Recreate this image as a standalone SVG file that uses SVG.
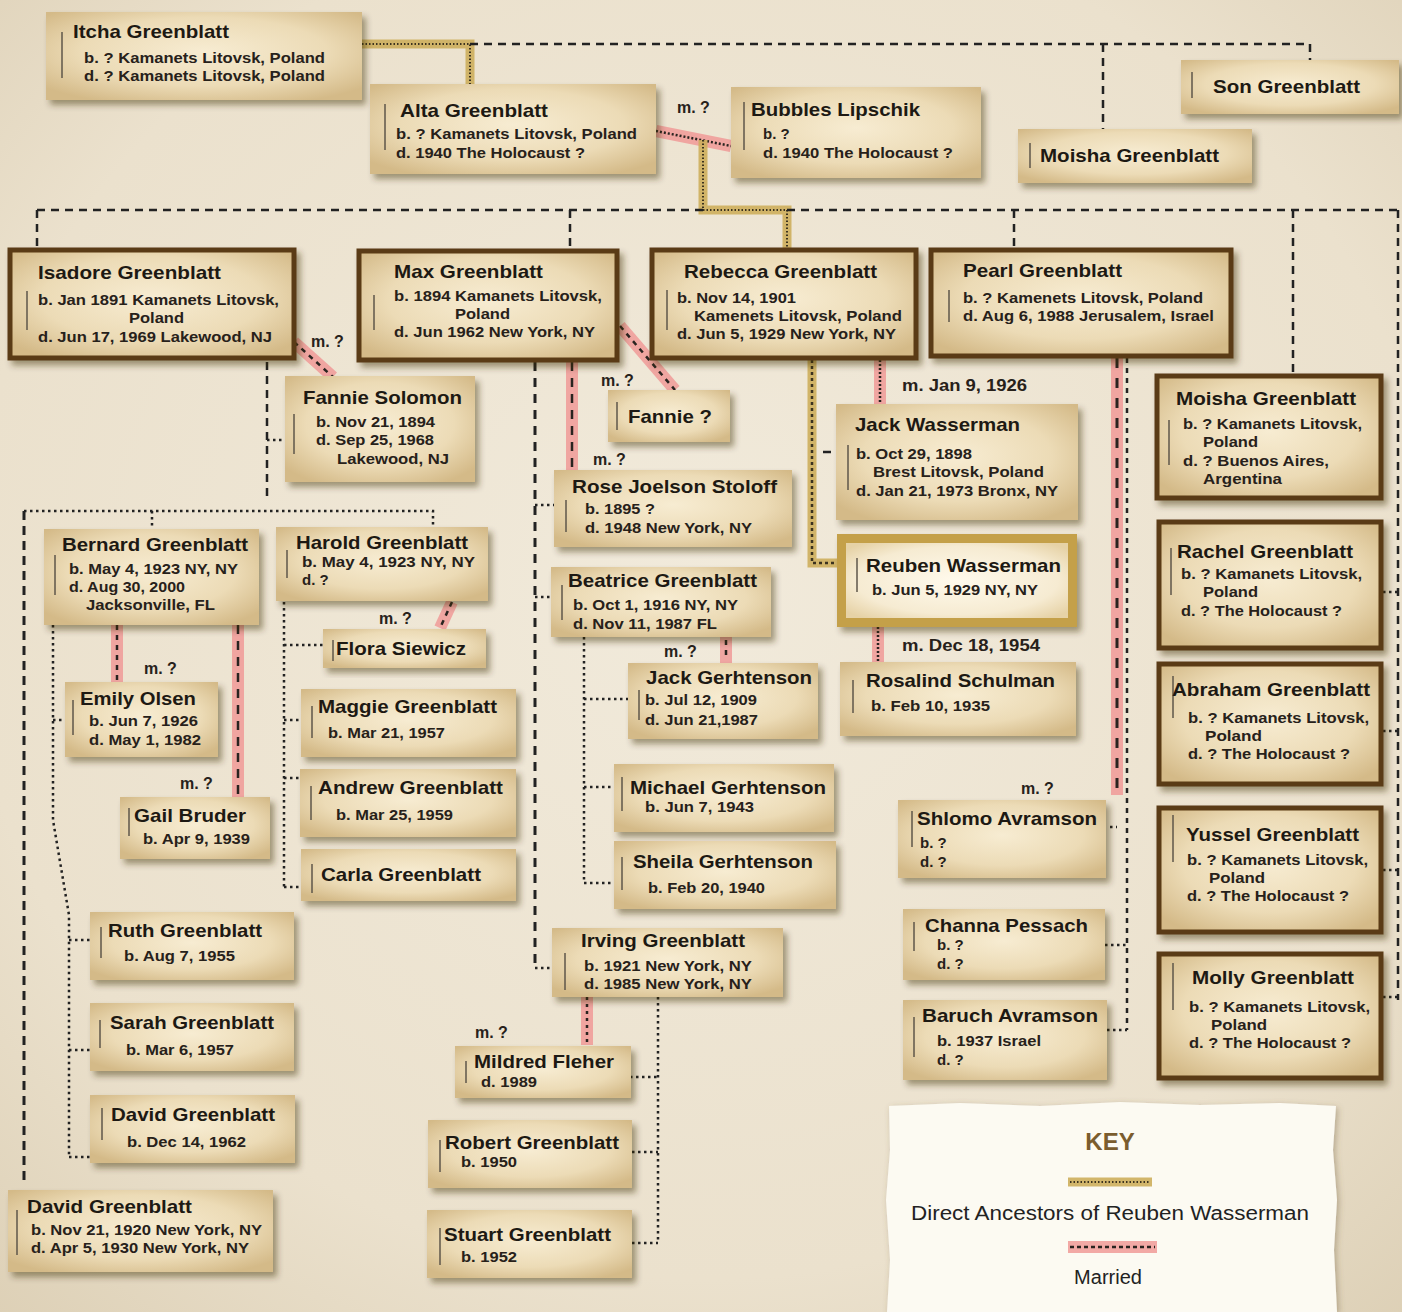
<svg xmlns="http://www.w3.org/2000/svg" width="1402" height="1312" viewBox="0 0 1402 1312">
<defs>
<radialGradient id="bg" cx="50%" cy="45%" r="75%">
<stop offset="0" stop-color="#f1eadb"/><stop offset="0.7" stop-color="#ebe1cd"/><stop offset="1" stop-color="#ddd0b6"/>
</radialGradient>
<radialGradient id="paper" cx="50%" cy="45%" r="65%">
<stop offset="0" stop-color="#f7ecd2"/><stop offset="0.6" stop-color="#ecdbb6"/><stop offset="1" stop-color="#d4ba88"/>
</radialGradient>
<radialGradient id="paperR" cx="50%" cy="50%" r="65%">
<stop offset="0" stop-color="#fffaec"/><stop offset="0.7" stop-color="#f6ebd2"/><stop offset="1" stop-color="#e6d2a6"/>
</radialGradient>
<filter id="sh" x="-10%" y="-15%" width="125%" height="140%">
<feDropShadow dx="4" dy="5" stdDeviation="3" flood-color="#3a2a10" flood-opacity="0.45"/>
</filter>
<filter id="ksh" x="-5%" y="-5%" width="110%" height="110%">
<feDropShadow dx="2" dy="2" stdDeviation="3" flood-color="#6a5a3a" flood-opacity="0.4"/>
</filter>
</defs>
<style>
.t{font-family:"Liberation Sans",Arial,sans-serif;font-weight:bold;font-size:19px;fill:#1d1913}
.d{font-family:"Liberation Sans",Arial,sans-serif;font-weight:bold;font-size:15px;fill:#27211a}
.m{font-family:"Liberation Sans",Arial,sans-serif;font-weight:bold;font-size:16px;fill:#27211a}
.box{fill:url(#paper);filter:url(#sh)}
.bx{stroke:#5a3a12;stroke-width:5}
.bar{stroke:#5e564a;stroke-width:1.5}
.pink{fill:none;stroke:#f09a98;stroke-width:12;stroke-opacity:0.85}
.pd{fill:none;stroke:#2a2420;stroke-width:2.5;stroke-dasharray:5 5}
.gold{fill:none;stroke:#cdae5c;stroke-width:9;stroke-opacity:0.9}
.gd{fill:none;stroke:#3b321f;stroke-width:2;stroke-dasharray:1.5 2}
.dash{fill:none;stroke:#222;stroke-width:2.5;stroke-dasharray:8 6}
.dot{fill:none;stroke:#222;stroke-width:2.5;stroke-dasharray:2.5 3.5}
</style>
<rect x="0" y="0" width="1402" height="1312" fill="url(#bg)"/>

<g id="connectors">
<path class="gold" d="M362,44 H470 V84"/><path class="gd" d="M362,44 H470 V84"/>
<path class="dash" d="M470,44 H1310 V60"/>
<path class="dash" d="M1103,44 V129"/>
<path class="pink" d="M656,131 L731,146"/><path class="pd" d="M656,131 L731,146" style="stroke-dasharray:2 2"/>
<path class="gold" d="M703,140 V210 H787 V248"/><path class="gd" d="M703,140 V210 H787 V248"/>
<path class="dash" d="M37,210 H703 M787,210 H1400"/>
<path class="dash" d="M37,210 V248 M570,210 V249 M1014,210 V248 M1293,210 V374 M1398,210 V1000"/>
<path class="dot" d="M1383,592 H1398 M1383,731 H1398 M1383,870 H1398 M1383,997 H1398"/>
<path class="pink" d="M294,342 L333,377"/><path class="pd" d="M294,342 L333,377"/>
<path class="dash" d="M267,362 V497"/>
<path class="dot" d="M267,440 H285"/>
<path class="dot" d="M24,511 H433 V527 M152,511 V529"/>
<path class="dash" d="M24,511 V1185" style="stroke-width:3;stroke-dasharray:9 6"/>
<path class="pink" d="M117,625 V682"/><path class="pd" d="M117,625 V682"/>
<path class="pink" d="M238,625 V797"/><path class="pd" d="M238,625 V797" style="stroke-dasharray:9 7"/>
<path class="dot" d="M53,625 V820 L69,915 V1157 M53,720 H65 M69,940 H90 M69,1050 H90 M69,1157 H90"/>
<path class="pink" d="M452,602 L440,628"/><path class="pd" d="M452,602 L440,628"/>
<path class="dot" d="M284,602 V887 M284,645 H323 M284,720 H301 M284,778 H300 M284,887 H301"/>
<path class="pink" d="M620,326 L675,390"/><path class="pd" d="M620,326 L675,390"/>
<path class="pink" d="M572,362 V470"/><path class="pd" d="M572,362 V470" style="stroke-dasharray:9 7"/>
<path class="dash" d="M535,362 V968" style="stroke-width:3;stroke-dasharray:9 7"/>
<path class="dot" d="M535,505 H554 M535,597 H551 M535,968 H552"/>
<path class="pink" d="M726,637 V663"/><path class="pd" d="M726,640 V660"/>
<path class="dot" d="M584,637 V883 M584,699 H628 M584,787 H614 M584,883 H614"/>
<path class="pink" d="M880,360 V404"/><path class="pd" d="M880,360 V404" style="stroke-dasharray:2 2"/>
<path class="gold" d="M812,360 V563 H837"/><path class="gd" d="M812,360 V563 H837" style="stroke-width:2.5;stroke-dasharray:3 3"/>
<path class="dash" d="M823,452 H831"/>
<path class="pink" d="M878,627 V662"/><path class="pd" d="M878,627 V662" style="stroke-dasharray:2 2"/>
<path class="pink" d="M1117,358 V795"/><path class="pd" d="M1117,358 V795" style="stroke-dasharray:10 10;stroke-width:3"/>
<path class="dash" d="M1127,358 V1030" style="stroke-dasharray:5 5"/>
<path class="dot" d="M1110,827 H1117 M1105,945 H1127 M1107,1030 H1127"/>
<path class="pink" d="M587,997 V1045"/><path class="pd" d="M587,997 V1045" style="stroke-dasharray:3 4"/>
<path class="dot" d="M658,997 V1243 M630,1077 H658 M632,1152 H658 M632,1243 H658"/>
</g>

<g id="labels">
<text class="m" x="677" y="113">m. ?</text>
<text class="m" x="311" y="347">m. ?</text>
<text class="m" x="144" y="674">m. ?</text>
<text class="m" x="180" y="789">m. ?</text>
<text class="m" x="379" y="624">m. ?</text>
<text class="m" x="601" y="386">m. ?</text>
<text class="m" x="593" y="465">m. ?</text>
<text class="m" x="664" y="657">m. ?</text>
<text class="m" x="902" y="391" textLength="125" lengthAdjust="spacingAndGlyphs">m. Jan 9, 1926</text>
<text class="m" x="902" y="651" textLength="138" lengthAdjust="spacingAndGlyphs">m. Dec 18, 1954</text>
<text class="m" x="1021" y="794">m. ?</text>
<text class="m" x="475" y="1038">m. ?</text>
</g>

<g id="itcha"><rect class="box" x="46" y="12" width="316" height="88"/><line class="bar" x1="62" y1="32" x2="62" y2="78"/>
<text class="t" x="73" y="38" textLength="156" lengthAdjust="spacingAndGlyphs">Itcha Greenblatt</text>
<text class="d" x="84" y="63" textLength="241" lengthAdjust="spacingAndGlyphs">b. ? Kamanets Litovsk, Poland</text>
<text class="d" x="84" y="81" textLength="241" lengthAdjust="spacingAndGlyphs">d. ? Kamanets Litovsk, Poland</text></g>

<g id="alta"><rect class="box" x="370" y="84" width="286" height="90"/><line class="bar" x1="385" y1="104" x2="385" y2="150"/>
<text class="t" x="400" y="117" textLength="148" lengthAdjust="spacingAndGlyphs">Alta Greenblatt</text>
<text class="d" x="396" y="139" textLength="241" lengthAdjust="spacingAndGlyphs">b. ? Kamanets Litovsk, Poland</text>
<text class="d" x="396" y="158" textLength="189" lengthAdjust="spacingAndGlyphs">d. 1940 The Holocaust ?</text></g>

<g id="bubbles"><rect class="box" x="731" y="87" width="250" height="91"/><line class="bar" x1="744" y1="102" x2="744" y2="150"/>
<text class="t" x="751" y="116" textLength="169" lengthAdjust="spacingAndGlyphs">Bubbles Lipschik</text>
<text class="d" x="763" y="139">b. ?</text>
<text class="d" x="763" y="158" textLength="190" lengthAdjust="spacingAndGlyphs">d. 1940 The Holocaust ?</text></g>

<g id="son"><rect class="box" x="1181" y="60" width="218" height="54"/><line class="bar" x1="1192" y1="72" x2="1192" y2="98"/>
<text class="t" x="1213" y="93" textLength="147" lengthAdjust="spacingAndGlyphs">Son Greenblatt</text></g>

<g id="moisha1"><rect class="box" x="1018" y="129" width="234" height="54"/><line class="bar" x1="1030" y1="143" x2="1030" y2="168"/>
<text class="t" x="1040" y="162" textLength="179" lengthAdjust="spacingAndGlyphs">Moisha Greenblatt</text></g>

<g id="isadore"><rect class="box bx" x="10" y="250" width="284" height="108"/><line class="bar" x1="27" y1="291" x2="27" y2="330"/>
<text class="t" x="38" y="279" textLength="183" lengthAdjust="spacingAndGlyphs">Isadore Greenblatt</text>
<text class="d" x="38" y="305" textLength="241" lengthAdjust="spacingAndGlyphs">b. Jan 1891 Kamanets Litovsk,</text>
<text class="d" x="129" y="323" textLength="55" lengthAdjust="spacingAndGlyphs">Poland</text>
<text class="d" x="38" y="342" textLength="234" lengthAdjust="spacingAndGlyphs">d. Jun 17, 1969 Lakewood, NJ</text></g>

<g id="max"><rect class="box bx" x="359" y="251" width="258" height="109"/><line class="bar" x1="374" y1="295" x2="374" y2="330"/>
<text class="t" x="394" y="278" textLength="149" lengthAdjust="spacingAndGlyphs">Max Greenblatt</text>
<text class="d" x="394" y="301" textLength="208" lengthAdjust="spacingAndGlyphs">b. 1894 Kamanets Litovsk,</text>
<text class="d" x="455" y="319" textLength="55" lengthAdjust="spacingAndGlyphs">Poland</text>
<text class="d" x="394" y="337" textLength="201" lengthAdjust="spacingAndGlyphs">d. Jun 1962 New York, NY</text></g>

<g id="rebecca"><rect class="box bx" x="652" y="250" width="264" height="108"/><line class="bar" x1="667" y1="290" x2="667" y2="330"/>
<text class="t" x="684" y="278" textLength="193" lengthAdjust="spacingAndGlyphs">Rebecca Greenblatt</text>
<text class="d" x="677" y="303" textLength="119" lengthAdjust="spacingAndGlyphs">b. Nov 14, 1901</text>
<text class="d" x="694" y="321" textLength="208" lengthAdjust="spacingAndGlyphs">Kamenets Litovsk, Poland</text>
<text class="d" x="677" y="339" textLength="219" lengthAdjust="spacingAndGlyphs">d. Jun 5, 1929 New York, NY</text></g>

<g id="pearl"><rect class="box bx" x="931" y="250" width="300" height="106"/><line class="bar" x1="949" y1="290" x2="949" y2="322"/>
<text class="t" x="963" y="277" textLength="159" lengthAdjust="spacingAndGlyphs">Pearl Greenblatt</text>
<text class="d" x="963" y="303" textLength="240" lengthAdjust="spacingAndGlyphs">b. ? Kamenets Litovsk, Poland</text>
<text class="d" x="963" y="321" textLength="251" lengthAdjust="spacingAndGlyphs">d. Aug 6, 1988 Jerusalem, Israel</text></g>

<g id="fannieS"><rect class="box" x="285" y="376" width="190" height="106"/><line class="bar" x1="294" y1="414" x2="294" y2="454"/>
<text class="t" x="303" y="404" textLength="159" lengthAdjust="spacingAndGlyphs">Fannie Solomon</text>
<text class="d" x="316" y="427" textLength="119" lengthAdjust="spacingAndGlyphs">b. Nov 21, 1894</text>
<text class="d" x="316" y="445" textLength="118" lengthAdjust="spacingAndGlyphs">d. Sep 25, 1968</text>
<text class="d" x="337" y="464" textLength="112" lengthAdjust="spacingAndGlyphs">Lakewood, NJ</text></g>

<g id="fannieQ"><rect class="box" x="608" y="390" width="122" height="52"/><line class="bar" x1="617" y1="402" x2="617" y2="430"/>
<text class="t" x="628" y="423" textLength="84" lengthAdjust="spacingAndGlyphs">Fannie ?</text></g>

<g id="rose"><rect class="box" x="554" y="470" width="238" height="77"/><line class="bar" x1="566" y1="500" x2="566" y2="532"/>
<text class="t" x="572" y="493" textLength="205" lengthAdjust="spacingAndGlyphs">Rose Joelson Stoloff</text>
<text class="d" x="585" y="514" textLength="70" lengthAdjust="spacingAndGlyphs">b. 1895 ?</text>
<text class="d" x="585" y="533" textLength="167" lengthAdjust="spacingAndGlyphs">d. 1948 New York, NY</text></g>

<g id="jackW"><rect class="box" x="836" y="404" width="242" height="116"/><line class="bar" x1="848" y1="445" x2="848" y2="490"/>
<text class="t" x="855" y="431" textLength="165" lengthAdjust="spacingAndGlyphs">Jack Wasserman</text>
<text class="d" x="856" y="459" textLength="116" lengthAdjust="spacingAndGlyphs">b. Oct 29, 1898</text>
<text class="d" x="873" y="477" textLength="171" lengthAdjust="spacingAndGlyphs">Brest Litovsk, Poland</text>
<text class="d" x="856" y="496" textLength="202" lengthAdjust="spacingAndGlyphs">d. Jan 21, 1973 Bronx, NY</text></g>

<g id="moisha2"><rect class="box bx" x="1157" y="376" width="224" height="122"/><line class="bar" x1="1169" y1="420" x2="1169" y2="465"/>
<text class="t" x="1176" y="405" textLength="180" lengthAdjust="spacingAndGlyphs">Moisha Greenblatt</text>
<text class="d" x="1183" y="429" textLength="179" lengthAdjust="spacingAndGlyphs">b. ? Kamanets Litovsk,</text>
<text class="d" x="1203" y="447" textLength="55" lengthAdjust="spacingAndGlyphs">Poland</text>
<text class="d" x="1183" y="466" textLength="146" lengthAdjust="spacingAndGlyphs">d. ? Buenos Aires,</text>
<text class="d" x="1203" y="484" textLength="79" lengthAdjust="spacingAndGlyphs">Argentina</text></g>

<g id="reuben"><rect x="837" y="534" width="240" height="93" fill="#c4a04a" filter="url(#sh)"/><rect x="846" y="543" width="222" height="75" fill="url(#paperR)"/><line class="bar" x1="857" y1="558" x2="857" y2="592"/>
<text class="t" x="866" y="572" textLength="195" lengthAdjust="spacingAndGlyphs">Reuben Wasserman</text>
<text class="d" x="872" y="595" textLength="166" lengthAdjust="spacingAndGlyphs">b. Jun 5, 1929 NY, NY</text></g>

<g id="bernard"><rect class="box" x="44" y="529" width="215" height="96"/><line class="bar" x1="55" y1="555" x2="55" y2="595"/>
<text class="t" x="62" y="551" textLength="186" lengthAdjust="spacingAndGlyphs">Bernard Greenblatt</text>
<text class="d" x="69" y="574" textLength="169" lengthAdjust="spacingAndGlyphs">b. May 4, 1923 NY, NY</text>
<text class="d" x="69" y="592" textLength="116" lengthAdjust="spacingAndGlyphs">d. Aug 30, 2000</text>
<text class="d" x="86" y="610" textLength="129" lengthAdjust="spacingAndGlyphs">Jacksonville, FL</text></g>

<g id="harold"><rect class="box" x="276" y="527" width="212" height="74"/><line class="bar" x1="287" y1="550" x2="287" y2="578"/>
<text class="t" x="296" y="549" textLength="172" lengthAdjust="spacingAndGlyphs">Harold Greenblatt</text>
<text class="d" x="302" y="567" textLength="173" lengthAdjust="spacingAndGlyphs">b. May 4, 1923 NY,  NY</text>
<text class="d" x="302" y="585">d. ?</text></g>

<g id="flora"><rect class="box" x="323" y="629" width="163" height="39"/><line class="bar" x1="333" y1="640" x2="333" y2="661"/>
<text class="t" x="336" y="655" textLength="130" lengthAdjust="spacingAndGlyphs">Flora Siewicz</text></g>

<g id="beatrice"><rect class="box" x="551" y="567" width="220" height="70"/><line class="bar" x1="562" y1="585" x2="562" y2="620"/>
<text class="t" x="568" y="587" textLength="189" lengthAdjust="spacingAndGlyphs">Beatrice Greenblatt</text>
<text class="d" x="573" y="610" textLength="165" lengthAdjust="spacingAndGlyphs">b. Oct 1, 1916 NY, NY</text>
<text class="d" x="573" y="629" textLength="144" lengthAdjust="spacingAndGlyphs">d. Nov 11, 1987 FL</text></g>

<g id="jackG"><rect class="box" x="628" y="663" width="190" height="76"/><line class="bar" x1="639" y1="690" x2="639" y2="720"/>
<text class="t" x="646" y="684" textLength="166" lengthAdjust="spacingAndGlyphs">Jack Gerhtenson</text>
<text class="d" x="645" y="705" textLength="112" lengthAdjust="spacingAndGlyphs">b. Jul 12, 1909</text>
<text class="d" x="645" y="725" textLength="113" lengthAdjust="spacingAndGlyphs">d. Jun 21,1987</text></g>

<g id="rosalind"><rect class="box" x="840" y="662" width="236" height="74"/><line class="bar" x1="853" y1="680" x2="853" y2="713"/>
<text class="t" x="866" y="687" textLength="189" lengthAdjust="spacingAndGlyphs">Rosalind Schulman</text>
<text class="d" x="871" y="711" textLength="119" lengthAdjust="spacingAndGlyphs">b. Feb 10, 1935</text></g>

<g id="emily"><rect class="box" x="65" y="682" width="153" height="75"/><line class="bar" x1="73" y1="700" x2="73" y2="735"/>
<text class="t" x="80" y="705" textLength="116" lengthAdjust="spacingAndGlyphs">Emily Olsen</text>
<text class="d" x="89" y="726" textLength="109" lengthAdjust="spacingAndGlyphs">b. Jun 7, 1926</text>
<text class="d" x="89" y="745" textLength="112" lengthAdjust="spacingAndGlyphs">d. May 1, 1982</text></g>

<g id="maggie"><rect class="box" x="301" y="689" width="215" height="68"/><line class="bar" x1="312" y1="706" x2="312" y2="738"/>
<text class="t" x="318" y="713" textLength="179" lengthAdjust="spacingAndGlyphs">Maggie Greenblatt</text>
<text class="d" x="328" y="738" textLength="117" lengthAdjust="spacingAndGlyphs">b. Mar 21, 1957</text></g>

<g id="rachel"><rect class="box bx" x="1159" y="522" width="222" height="126"/><line class="bar" x1="1171" y1="548" x2="1171" y2="595"/>
<text class="t" x="1177" y="558" textLength="176" lengthAdjust="spacingAndGlyphs">Rachel Greenblatt</text>
<text class="d" x="1181" y="579" textLength="181" lengthAdjust="spacingAndGlyphs">b. ? Kamanets Litovsk,</text>
<text class="d" x="1203" y="597" textLength="55" lengthAdjust="spacingAndGlyphs">Poland</text>
<text class="d" x="1181" y="616" textLength="161" lengthAdjust="spacingAndGlyphs">d. ? The Holocaust ?</text></g>

<g id="abraham"><rect class="box bx" x="1159" y="664" width="222" height="120"/><line class="bar" x1="1173" y1="676" x2="1173" y2="718"/>
<text class="t" x="1172" y="696" textLength="198" lengthAdjust="spacingAndGlyphs">Abraham Greenblatt</text>
<text class="d" x="1188" y="723" textLength="181" lengthAdjust="spacingAndGlyphs">b. ? Kamanets Litovsk,</text>
<text class="d" x="1205" y="741" textLength="57" lengthAdjust="spacingAndGlyphs">Poland</text>
<text class="d" x="1188" y="759" textLength="162" lengthAdjust="spacingAndGlyphs">d. ? The Holocaust ?</text></g>

<g id="yussel"><rect class="box bx" x="1159" y="808" width="222" height="124"/><line class="bar" x1="1173" y1="815" x2="1173" y2="862"/>
<text class="t" x="1186" y="841" textLength="173" lengthAdjust="spacingAndGlyphs">Yussel Greenblatt</text>
<text class="d" x="1187" y="865" textLength="181" lengthAdjust="spacingAndGlyphs">b. ? Kamanets Litovsk,</text>
<text class="d" x="1209" y="883" textLength="56" lengthAdjust="spacingAndGlyphs">Poland</text>
<text class="d" x="1187" y="901" textLength="162" lengthAdjust="spacingAndGlyphs">d. ? The Holocaust ?</text></g>

<g id="molly"><rect class="box bx" x="1159" y="954" width="222" height="124"/><line class="bar" x1="1173" y1="963" x2="1173" y2="1010"/>
<text class="t" x="1192" y="984" textLength="162" lengthAdjust="spacingAndGlyphs">Molly Greenblatt</text>
<text class="d" x="1189" y="1012" textLength="181" lengthAdjust="spacingAndGlyphs">b. ? Kamanets Litovsk,</text>
<text class="d" x="1211" y="1030" textLength="56" lengthAdjust="spacingAndGlyphs">Poland</text>
<text class="d" x="1189" y="1048" textLength="162" lengthAdjust="spacingAndGlyphs">d. ? The Holocaust ?</text></g>

<g id="gail"><rect class="box" x="120" y="797" width="150" height="62"/><line class="bar" x1="129" y1="808" x2="129" y2="836"/>
<text class="t" x="134" y="822" textLength="112" lengthAdjust="spacingAndGlyphs">Gail Bruder</text>
<text class="d" x="143" y="844" textLength="107" lengthAdjust="spacingAndGlyphs">b. Apr 9, 1939</text></g>

<g id="andrew"><rect class="box" x="300" y="769" width="216" height="68"/><line class="bar" x1="311" y1="786" x2="311" y2="820"/>
<text class="t" x="318" y="794" textLength="185" lengthAdjust="spacingAndGlyphs">Andrew Greenblatt</text>
<text class="d" x="336" y="820" textLength="117" lengthAdjust="spacingAndGlyphs">b. Mar 25, 1959</text></g>

<g id="carla"><rect class="box" x="301" y="849" width="215" height="52"/><line class="bar" x1="312" y1="864" x2="312" y2="893"/>
<text class="t" x="321" y="881" textLength="160" lengthAdjust="spacingAndGlyphs">Carla Greenblatt</text></g>

<g id="michael"><rect class="box" x="614" y="764" width="220" height="68"/><line class="bar" x1="622" y1="777" x2="622" y2="811"/>
<text class="t" x="630" y="794" textLength="196" lengthAdjust="spacingAndGlyphs">Michael Gerhtenson</text>
<text class="d" x="645" y="812" textLength="109" lengthAdjust="spacingAndGlyphs">b. Jun 7, 1943</text></g>

<g id="sheila"><rect class="box" x="614" y="841" width="222" height="68"/><line class="bar" x1="622" y1="857" x2="622" y2="890"/>
<text class="t" x="633" y="868" textLength="180" lengthAdjust="spacingAndGlyphs">Sheila Gerhtenson</text>
<text class="d" x="648" y="893" textLength="117" lengthAdjust="spacingAndGlyphs">b. Feb 20, 1940</text></g>

<g id="shlomo"><rect class="box" x="898" y="800" width="208" height="78"/><line class="bar" x1="912" y1="811" x2="912" y2="847"/>
<text class="t" x="917" y="825" textLength="180" lengthAdjust="spacingAndGlyphs">Shlomo Avramson</text>
<text class="d" x="920" y="848">b. ?</text>
<text class="d" x="920" y="867">d. ?</text></g>

<g id="ruth"><rect class="box" x="90" y="912" width="204" height="68"/><line class="bar" x1="101" y1="927" x2="101" y2="958"/>
<text class="t" x="108" y="937" textLength="154" lengthAdjust="spacingAndGlyphs">Ruth Greenblatt</text>
<text class="d" x="124" y="961" textLength="111" lengthAdjust="spacingAndGlyphs">b. Aug 7, 1955</text></g>

<g id="sarah"><rect class="box" x="90" y="1003" width="204" height="68"/><line class="bar" x1="100" y1="1020" x2="100" y2="1048"/>
<text class="t" x="110" y="1029" textLength="164" lengthAdjust="spacingAndGlyphs">Sarah Greenblatt</text>
<text class="d" x="126" y="1055" textLength="108" lengthAdjust="spacingAndGlyphs">b. Mar 6, 1957</text></g>

<g id="davidC"><rect class="box" x="90" y="1095" width="205" height="68"/><line class="bar" x1="102" y1="1108" x2="102" y2="1140"/>
<text class="t" x="111" y="1121" textLength="164" lengthAdjust="spacingAndGlyphs">David Greenblatt</text>
<text class="d" x="127" y="1147" textLength="119" lengthAdjust="spacingAndGlyphs">b. Dec 14, 1962</text></g>

<g id="davidI"><rect class="box" x="8" y="1190" width="265" height="82"/><line class="bar" x1="17" y1="1210" x2="17" y2="1255"/>
<text class="t" x="27" y="1213" textLength="165" lengthAdjust="spacingAndGlyphs">David Greenblatt</text>
<text class="d" x="31" y="1235" textLength="231" lengthAdjust="spacingAndGlyphs">b. Nov 21, 1920 New York, NY</text>
<text class="d" x="31" y="1253" textLength="218" lengthAdjust="spacingAndGlyphs">d. Apr 5, 1930 New York, NY</text></g>

<g id="irving"><rect class="box" x="552" y="928" width="231" height="69"/><line class="bar" x1="565" y1="953" x2="565" y2="990"/>
<text class="t" x="581" y="947" textLength="164" lengthAdjust="spacingAndGlyphs">Irving Greenblatt</text>
<text class="d" x="584" y="971" textLength="168" lengthAdjust="spacingAndGlyphs">b. 1921 New York, NY</text>
<text class="d" x="584" y="989" textLength="168" lengthAdjust="spacingAndGlyphs">d. 1985 New York, NY</text></g>

<g id="mildred"><rect class="box" x="455" y="1046" width="176" height="52"/><line class="bar" x1="466" y1="1061" x2="466" y2="1083"/>
<text class="t" x="474" y="1068" textLength="140" lengthAdjust="spacingAndGlyphs">Mildred Fleher</text>
<text class="d" x="481" y="1087" textLength="56" lengthAdjust="spacingAndGlyphs">d. 1989</text></g>

<g id="robert"><rect class="box" x="428" y="1120" width="204" height="68"/><line class="bar" x1="440" y1="1140" x2="440" y2="1172"/>
<text class="t" x="445" y="1149" textLength="174" lengthAdjust="spacingAndGlyphs">Robert Greenblatt</text>
<text class="d" x="461" y="1167" textLength="56" lengthAdjust="spacingAndGlyphs">b. 1950</text></g>

<g id="stuart"><rect class="box" x="427" y="1210" width="205" height="68"/><line class="bar" x1="440" y1="1228" x2="440" y2="1265"/>
<text class="t" x="444" y="1241" textLength="167" lengthAdjust="spacingAndGlyphs">Stuart Greenblatt</text>
<text class="d" x="461" y="1262" textLength="56" lengthAdjust="spacingAndGlyphs">b. 1952</text></g>

<g id="channa"><rect class="box" x="903" y="909" width="202" height="71"/><line class="bar" x1="914" y1="922" x2="914" y2="951"/>
<text class="t" x="925" y="932" textLength="163" lengthAdjust="spacingAndGlyphs">Channa Pessach</text>
<text class="d" x="937" y="950">b. ?</text>
<text class="d" x="937" y="969">d. ?</text></g>

<g id="baruch"><rect class="box" x="903" y="1000" width="204" height="80"/><line class="bar" x1="914" y1="1017" x2="914" y2="1057"/>
<text class="t" x="922" y="1022" textLength="176" lengthAdjust="spacingAndGlyphs">Baruch Avramson</text>
<text class="d" x="937" y="1046" textLength="104" lengthAdjust="spacingAndGlyphs">b. 1937 Israel</text>
<text class="d" x="937" y="1065">d. ?</text></g>

<g id="key">
<path d="M889,1106 L960,1103 L1040,1106 L1120,1102 L1200,1105 L1280,1103 L1336,1106 L1333,1150 L1337,1200 L1334,1250 L1337,1312 L887,1312 L890,1260 L886,1200 L890,1150 Z" fill="#fcfaf2" filter="url(#ksh)"/>
<text x="1110" y="1150" text-anchor="middle" style="font-family:'Liberation Sans',Arial,sans-serif;font-weight:bold;font-size:24px;fill:#7a5c2e">KEY</text>
<path class="gold" d="M1068,1182 H1152"/><path class="gd" d="M1070,1182 H1150"/>
<text x="1110" y="1220" text-anchor="middle" textLength="398" lengthAdjust="spacingAndGlyphs" style="font-family:'Liberation Sans',Arial,sans-serif;font-size:20px;fill:#222">Direct Ancestors of Reuben Wasserman</text>
<path class="pink" d="M1068,1247 H1157"/><path class="pd" d="M1070,1247 H1155" style="stroke-dasharray:4 3"/>
<text x="1108" y="1284" text-anchor="middle" style="font-family:'Liberation Sans',Arial,sans-serif;font-size:20px;fill:#222">Married</text>
</g>
</svg>
